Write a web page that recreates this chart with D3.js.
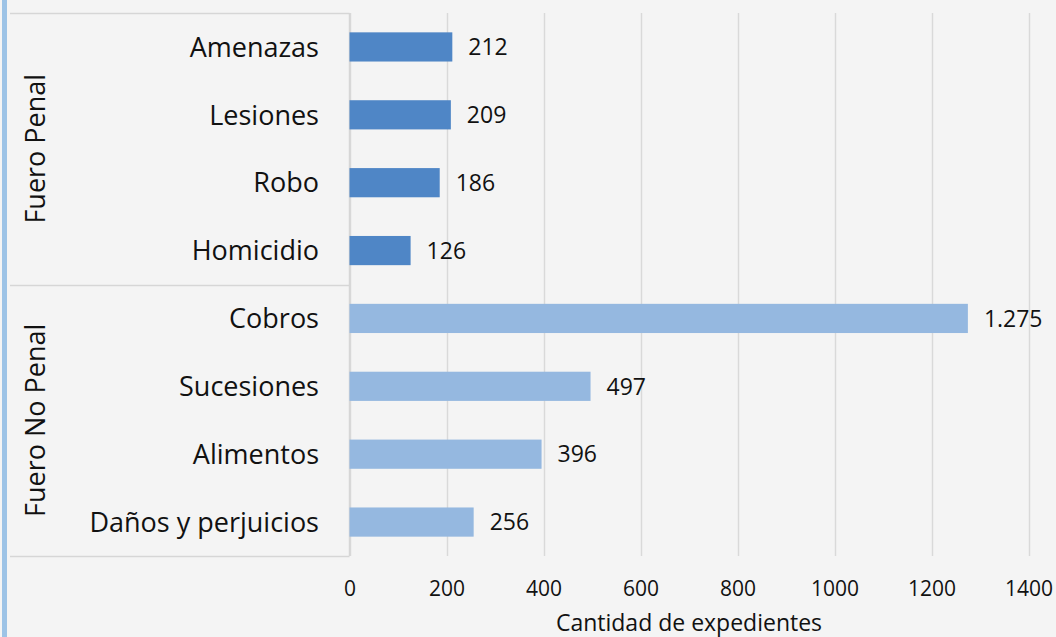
<!DOCTYPE html>
<html>
<head>
<meta charset="utf-8">
<script src="https://cdn.jsdelivr.net/npm/d3@7"></script>
<style>
  body { margin: 0; background: #f4f4f4; }
  svg { display: block; font-family: "Open Sans", "Noto Sans", sans-serif; }
</style>
</head>
<body>
<div id="chart"></div>
<script>
var width = 1056;
var height = 637;

// data
var groups = ["Fuero Penal", "Fuero No Penal"];
var categories = ["Amenazas", "Lesiones", "Robo", "Homicidio",
                  "Cobros", "Sucesiones", "Alimentos", "Daños y perjuicios"];
var categoryGroup = ["Fuero Penal", "Fuero Penal", "Fuero Penal", "Fuero Penal",
                     "Fuero No Penal", "Fuero No Penal", "Fuero No Penal", "Fuero No Penal"];
var values = [212, 209, 186, 126, 1275, 497, 396, 256];
var xTicks = [0, 200, 400, 600, 800, 1000, 1200, 1400];
var groupColors = ["#4f86c6", "#95b8e0"];

var plotLeft = 349.5, plotRight = 1028.5, plotTop = 13, plotBottom = 556;

var svg = d3.select("#chart")
    .append("svg")
    .attr("width", width)
    .attr("height", height);

// background
svg.append("rect")
    .attr("width", width)
    .attr("height", height)
    .attr("fill", "#f4f4f4");

// blue strip on the left edge
svg.append("rect")
    .attr("x", 2)
    .attr("y", 0)
    .attr("width", 5)
    .attr("height", height)
    .attr("fill", "#9dc3e6");

var ScaleX = d3.scaleLinear()
    .domain([0, 1400])
    .range([plotLeft, plotRight]);

var ScaleY = d3.scaleBand()
    .domain(categories)
    .range([plotTop, plotBottom])
    .paddingInner(0.57)
    .paddingOuter(0.285);

var bandStep = ScaleY.step();

// gridlines
svg.append("g")
    .selectAll("line")
    .data(xTicks)
    .enter()
    .append("line")
    .attr("x1", function(d) { return Math.round(ScaleX(d)) + 0.5; })
    .attr("x2", function(d) { return Math.round(ScaleX(d)) + 0.5; })
    .attr("y1", plotTop)
    .attr("y2", plotBottom)
    .attr("stroke", "#d9d9d9")
    .attr("stroke-width", 1.5);

// category axis box lines (top, group separator, bottom)
var groupY = [plotTop];
groups.forEach(function(g) {
  var last = categories.filter(function(c, i) { return categoryGroup[i] === g; }).pop();
  groupY.push(ScaleY(last) + (bandStep + ScaleY.bandwidth()) / 2);
});

svg.append("g")
    .selectAll("line")
    .data(groupY)
    .enter()
    .append("line")
    .attr("x1", 10)
    .attr("x2", plotLeft)
    .attr("y1", function(d) { return Math.round(d) + 0.5; })
    .attr("y2", function(d) { return Math.round(d) + 0.5; })
    .attr("stroke", "#d6d6d6")
    .attr("stroke-width", 1.5);

svg.append("line")
    .attr("x1", plotLeft)
    .attr("x2", plotLeft)
    .attr("y1", plotTop)
    .attr("y2", plotBottom)
    .attr("stroke", "#d6d6d6")
    .attr("stroke-width", 1.5);

// bars
svg.append("g")
    .selectAll("rect")
    .data(categories)
    .enter()
    .append("rect")
    .attr("x", ScaleX(0))
    .attr("y", function(d) { return ScaleY(d); })
    .attr("width", function(d, i) { return ScaleX(values[i]) - ScaleX(0); })
    .attr("height", ScaleY.bandwidth())
    .attr("fill", function(d, i) { return groupColors[groups.indexOf(categoryGroup[i])]; });

// value labels
var fmt = d3.formatLocale({ decimal: ",", thousands: ".", grouping: [3], currency: ["", ""] }).format(",d");

svg.append("g")
    .selectAll("text")
    .data(categories)
    .enter()
    .append("text")
    .attr("x", function(d, i) { return ScaleX(values[i]) + 16; })
    .attr("y", function(d) { return ScaleY(d) + ScaleY.bandwidth() / 2; })
    .attr("dy", "0.36em")
    .attr("font-size", 23)
    .attr("fill", "#111")
    .text(function(d, i) { return fmt(values[i]); });

// category labels
svg.append("g")
    .selectAll("text")
    .data(categories)
    .enter()
    .append("text")
    .attr("x", 319)
    .attr("y", function(d) { return ScaleY(d) + ScaleY.bandwidth() / 2; })
    .attr("dy", "0.36em")
    .attr("text-anchor", "end")
    .attr("font-size", 27)
    .attr("fill", "#111")
    .text(function(d) { return d; });

// group labels
svg.append("g")
    .selectAll("text")
    .data(groups)
    .enter()
    .append("text")
    .attr("transform", function(d, i) {
      return "translate(35," + ((groupY[i] + groupY[i + 1]) / 2) + ")rotate(-90)";
    })
    .attr("dy", "0.36em")
    .attr("text-anchor", "middle")
    .attr("font-size", 27)
    .attr("fill", "#111")
    .text(function(d) { return d; });

// x axis
var X_Axis = d3.axisBottom(ScaleX)
    .tickValues(xTicks)
    .tickSize(0)
    .tickPadding(0)
    .tickFormat(d3.format("d"));

var xg = svg.append("g")
    .attr("transform", "translate(0," + (plotBottom + 32) + ")")
    .call(X_Axis);
xg.select(".domain").remove();
xg.selectAll("text")
    .attr("dy", "0.36em")
    .attr("y", 0)
    .attr("font-size", 21)
    .attr("font-family", "Open Sans, sans-serif")
    .attr("fill", "#111");

svg.append("text")
    .attr("x", (plotLeft + plotRight) / 2)
    .attr("y", 623)
    .attr("dy", "0.36em")
    .attr("text-anchor", "middle")
    .attr("font-size", 23)
    .attr("fill", "#111")
    .text("Cantidad de expedientes");
</script>
</body>
</html>
